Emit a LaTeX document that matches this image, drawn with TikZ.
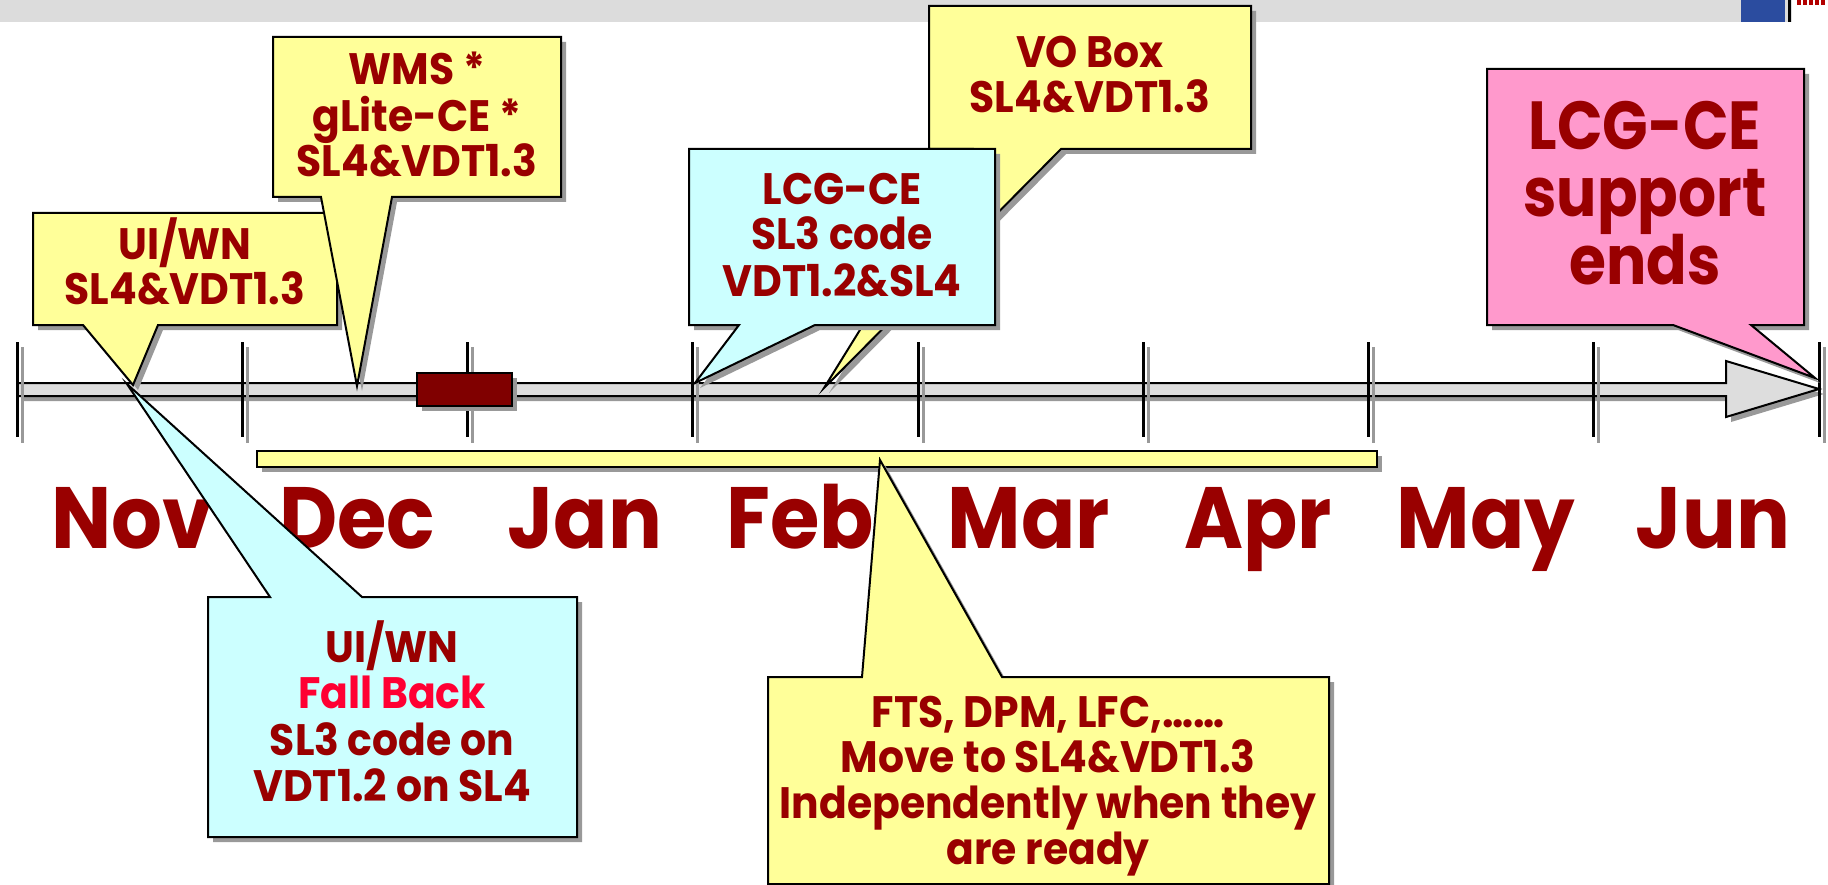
\documentclass[tikz,border=0pt]{standalone}
\usepackage{fontspec}
\setmainfont{Poppins}
\newfontfamily\callfont{Poppins}[FakeStretch=0.93]
\newfontfamily\monthfont{Poppins}[FakeStretch=0.92]
\newfontfamily\pinkfont{Poppins}[FakeStretch=0.88]
\definecolor{txt}{HTML}{990000}
\definecolor{fb}{HTML}{FF0033}
\definecolor{yel}{HTML}{FFFF99}
\definecolor{cya}{HTML}{CCFFFF}
\definecolor{pnk}{HTML}{FF99CC}
\definecolor{barg}{HTML}{DDDDDD}
\definecolor{shd}{HTML}{999999}
\definecolor{blockred}{HTML}{800000}
\definecolor{logoblue}{HTML}{2B4C9F}
\definecolor{bandgray}{HTML}{DCDCDC}
\newcommand\shbox[2]{\fill[shd, transform canvas={shift={(5pt,-5pt)}}] #2; \draw[#1] #2;}
\tikzset{
  calltext/.style={font=\callfont\bfseries\fontsize{44}{46}\selectfont, text=txt, anchor=base, inner sep=0pt},
  bigtext/.style={font=\pinkfont\bfseries\fontsize{68}{70}\selectfont, text=txt, anchor=base, inner sep=0pt},
  monthtext/.style={font=\monthfont\bfseries\fontsize{87}{90}\selectfont, text=txt, anchor=base, inner sep=0pt},
  ybub/.style={fill=yel, draw=black, line width=2pt, line join=miter},
  cbub/.style={fill=cya, draw=black, line width=2pt, line join=miter},
  pbub/.style={fill=pnk, draw=black, line width=2pt, line join=miter},
  barshape/.style={fill=barg, draw=black, line width=2pt, line join=miter},
  tickline/.style={draw=black, line width=3pt},
  tickshade/.style={draw=shd, line width=3pt},
}
\begin{document}
\begin{tikzpicture}[x=1pt,y=-1pt]
\useasboundingbox (0,0) rectangle (1828,885);
% top band and logo
\fill[bandgray] (0,0) rectangle (1828,22);
\fill[logoblue] (1741,0) rectangle (1785,22);
\draw[black, line width=3pt] (1789,0) -- (1789,22);
\fill[white] (1792,0) rectangle (1828,22);
\foreach \k in {0,...,4} {\fill[red!70!black] (1797+6*\k,0) rectangle (1801+6*\k,5);}
% timeline bar
\shbox{barshape}{(17,383) -- (1726,383) -- (1726,361) -- (1819,389) -- (1726,417) -- (1726,396) -- (17,396) -- cycle}
% ticks
\foreach \i in {0,...,8} {
  \draw[tickshade] (22+225.25*\i,347) -- (22+225.25*\i,443);
  \draw[tickline] (17+225.25*\i,342) -- (17+225.25*\i,437);
}
% red block
\shbox{fill=blockred, draw=black, line width=2pt}{(417,373) rectangle (512,406)}
% yellow duration bar
\shbox{ybub}{(257,451) rectangle (1377,467)}
% month labels
\node[monthtext] (nov) at (132,548) {Nov};
\node[monthtext] (dec) at (357,548) {Dec};
\node[monthtext] (jan) at (585,548) {Jan};
\node[monthtext] (feb) at (800,548) {Feb};
\node[monthtext] (mar) at (1029,548) {Mar};
\node[monthtext] (apr) at (1258,548) {Apr};
\node[monthtext] (may) at (1486,548) {May};
\node[monthtext] (jun) at (1713,548) {Jun};
% VO Box callout
\shbox{ybub}{(929,6) -- (1251,6) -- (1251,149) -- (1061,149) -- (824,388) -- (972,149) -- (929,149) -- cycle}
\node[calltext] (vo1) at (1090,68) {VO Box};
\node[calltext] (vo2) at (1090,113) {SL4\&VDT1.3};
% LCG-CE cyan callout
\shbox{cbub}{(689,149) -- (995,149) -- (995,325) -- (815,325) -- (695,383) -- (739,325) -- (689,325) -- cycle}
\node[calltext] (lc1) at (842,205) {LCG-CE};
\node[calltext] (lc2) at (842,250) {SL3 code};
\node[calltext] (lc3) at (842,297) {VDT1.2\&SL4};
% UI/WN top callout
\shbox{ybub}{(33,213) -- (337,213) -- (337,325) -- (158,325) -- (133,385) -- (83,325) -- (33,325) -- cycle}
\node[calltext] (ui1) at (185,260) {UI/WN};
\node[calltext] (ui2) at (185,305) {SL4\&VDT1.3};
% WMS callout
\shbox{ybub}{(273,37) -- (561,37) -- (561,197) -- (392,197) -- (357,386) -- (321,197) -- (273,197) -- cycle}
\node[calltext] (wm1) at (417,85) {WMS *};
\node[calltext] (wm2) at (417,132) {gLite-CE *};
\node[calltext] (wm3) at (417,177) {SL4\&VDT1.3};
% pink callout
\shbox{pbub}{(1487,69) -- (1804,69) -- (1804,325) -- (1751,325) -- (1815,378) -- (1673,325) -- (1487,325) -- cycle}
\node[bigtext] (pk1) at (1645,150) {LCG-CE};
\node[bigtext] (pk2) at (1645,217) {support};
\node[bigtext] (pk3) at (1645,285) {ends};
% lower cyan callout
\shbox{cbub}{(208,597) -- (270,597) -- (127,384) -- (362,597) -- (577,597) -- (577,837) -- (208,837) -- cycle}
\node[calltext] (fb1) at (392,662) {UI/WN};
\node[calltext, text=fb] (fb2) at (392,708) {Fall Back};
\node[calltext] (fb3) at (392,755) {SL3 code on};
\node[calltext] (fb4) at (392,801) {VDT1.2 on SL4};
% FTS callout
\shbox{ybub}{(768,677) -- (862,677) -- (880,460) -- (1002,677) -- (1329,677) -- (1329,884) -- (768,884) -- cycle}
\node[calltext] (ft1) at (1048,727) {FTS, DPM, LFC,……};
\node[calltext] (ft2) at (1048,772) {Move to SL4\&VDT1.3};
\node[calltext] (ft3) at (1048,818) {Independently when they};
\node[calltext] (ft4) at (1048,864) {are ready};
\end{tikzpicture}
\end{document}
